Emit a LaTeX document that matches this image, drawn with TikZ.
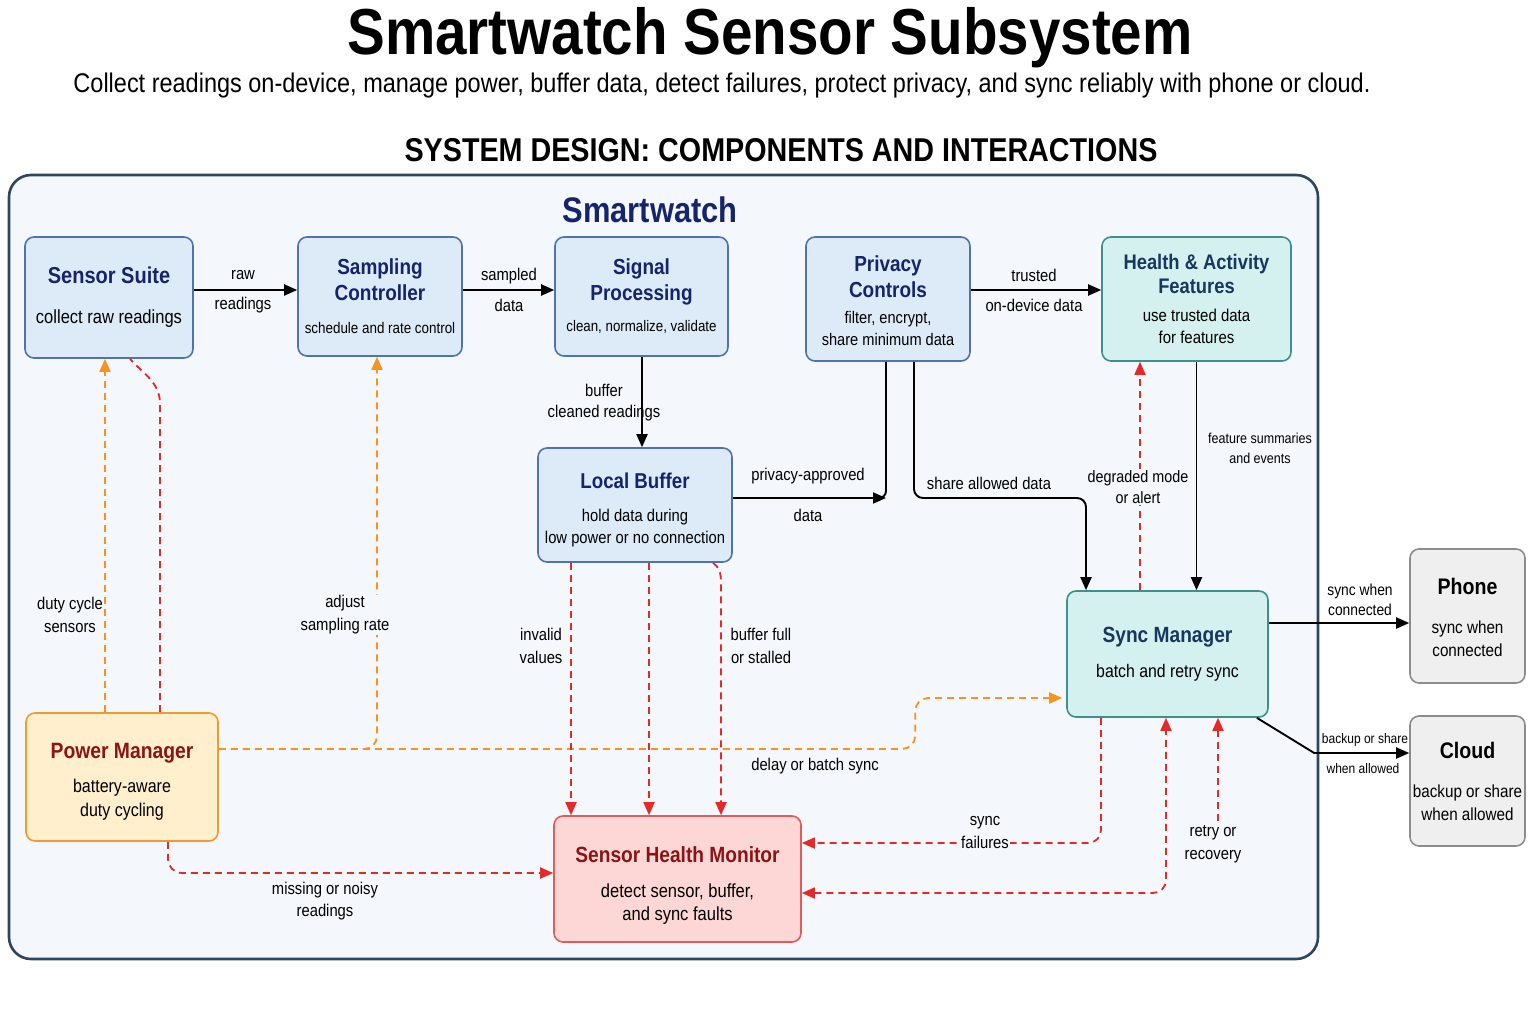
\documentclass[tikz,border=0pt]{standalone}
\usepackage{fontspec}
\setmainfont[FakeStretch=0.87]{Liberation Sans}
\usetikzlibrary{arrows.meta,calc}
\definecolor{navyT}{HTML}{15246B}
\definecolor{tealT}{HTML}{17375E}
\definecolor{redT}{HTML}{8B1414}
\definecolor{bFill}{HTML}{DDEAF8}
\definecolor{bBord}{HTML}{4F73B0}
\definecolor{tFill}{HTML}{D4F1EF}
\definecolor{tBord}{HTML}{3F8F8E}
\definecolor{gFill}{HTML}{EFEFEF}
\definecolor{gBord}{HTML}{8C8C8C}
\definecolor{oFill}{HTML}{FFEFCC}
\definecolor{oBord}{HTML}{F39A2E}
\definecolor{rFill}{HTML}{FDD7D5}
\definecolor{rBord}{HTML}{E05B5B}
\definecolor{cFill}{HTML}{F4F7FB}
\definecolor{cBord}{HTML}{2F455F}
\definecolor{oLine}{HTML}{F7931E}
\definecolor{rLine}{HTML}{E62828}
\newcommand\btit[3]{\fontsize{#1}{#1}\selectfont\bfseries\color{#2}#3}
\newcommand\bsub[2]{\fontsize{#1}{#1}\selectfont #2}
\newcommand\lift[1]{\rule{0pt}{#1}}
\tikzset{
  box/.style={rounded corners=9pt, line width=1.6pt, align=center, inner sep=2pt, font=\fontsize{16}{22}\selectfont},
  bluebox/.style={box, draw=bBord, fill=bFill},
  tealbox/.style={box, draw=tBord, fill=tFill},
  graybox/.style={box, draw=gBord, fill=gFill},
  orbox/.style={box, draw=oBord, fill=oFill},
  redbox/.style={box, draw=rBord, fill=rFill},
  tip/.style={-{Triangle[length=13pt,width=11pt]}},
  flow/.style={line width=1.9pt, draw=black, tip},
  plain/.style={line width=1.9pt, draw=black},
  odash/.style={line width=1.8pt, draw=oLine, dash pattern=on 7pt off 5pt, -{Triangle[length=13pt,width=11pt,fill=oLine]}},
  rdash/.style={line width=1.8pt, draw=rLine, dash pattern=on 7pt off 5pt, -{Triangle[length=13pt,width=11pt,fill=rLine]}},
  rdashline/.style={line width=1.8pt, draw=rLine, dash pattern=on 7pt off 5pt},
  lbl/.style={align=center, inner sep=1pt, font=\fontsize{17}{23}\selectfont},
  slbl/.style={align=center, inner sep=1pt, font=\fontsize{14.4}{20}\selectfont},
  bg/.style={fill=cFill}
}
\begin{document}
\begin{tikzpicture}[x=1pt,y=-1pt]
\useasboundingbox (0,0) rectangle (1536,1024);
\fill[white] (0,0) rectangle (1536,1024);

% headings
\node[font=\fontsize{65}{70}\selectfont\bfseries] (title) at (770,38) {Smartwatch Sensor Subsystem};
\node[font=\fontsize{27}{30}\selectfont] (subtitle) at (722,86) {Collect readings on-device, manage power, buffer data, detect failures, protect privacy, and sync reliably with phone or cloud.};
\node[font=\fontsize{33}{36}\selectfont\bfseries] (section) at (781,150) {SYSTEM DESIGN: COMPONENTS AND INTERACTIONS};

% container
\draw[line width=2.6pt, draw=cBord, fill=cFill, rounded corners=22pt] (9,175) rectangle (1318,959);
\node[font=\fontsize{35.5}{38}\selectfont\bfseries, text=navyT] (watch) at (650,210) {Smartwatch};

% boxes
\node[bluebox, minimum width=168pt, minimum height=121pt] (ss) at (109,297.5)
  {\btit{23}{navyT}{Sensor Suite}\\[18pt]\bsub{19}{collect raw readings}};
\node[bluebox, minimum width=164pt, minimum height=119pt] (sc) at (380,296.5)
  {\btit{21.8}{navyT}{Sampling}\\[4pt]\btit{21.8}{navyT}{Controller}\\[11pt]\bsub{15.4}{schedule and rate control}};
\node[bluebox, minimum width=173pt, minimum height=119pt] (sp) at (641.5,296.5)
  {\btit{21.8}{navyT}{Signal}\\[4pt]\btit{21.8}{navyT}{Processing}\\[9pt]\bsub{15.3}{clean, normalize, validate}};
\node[bluebox, minimum width=164pt, minimum height=124pt] (pc) at (888,299)
  {\lift{19pt}\btit{21.8}{navyT}{Privacy}\\[4pt]\btit{21.8}{navyT}{Controls}\\[4pt]\bsub{16.8}{filter, encrypt,}\\[0pt]\bsub{16.8}{share minimum data}};
\node[tealbox, minimum width=189pt, minimum height=124pt] (ha) at (1196.5,299)
  {\btit{21.1}{tealT}{Health \& Activity}\\[2pt]\btit{21.1}{tealT}{Features}\\[6pt]\bsub{17.2}{use trusted data}\\[0pt]\bsub{17.2}{for features}};
\node[bluebox, minimum width=194pt, minimum height=114pt] (lb) at (635,505)
  {\lift{26pt}\btit{21.5}{navyT}{Local Buffer}\\[11pt]\bsub{17}{hold data during}\\[0pt]\bsub{17}{low power or no connection}};
\node[tealbox, minimum width=201pt, minimum height=126pt] (sm) at (1167.5,654)
  {\btit{22}{tealT}{Sync Manager}\\[13pt]\bsub{18.2}{batch and retry sync}};
\node[graybox, minimum width=115pt, minimum height=134pt] (ph) at (1467.5,616)
  {\lift{20pt}\btit{22.5}{black}{Phone}\\[17pt]\bsub{17.5}{sync when}\\[1pt]\bsub{17.5}{connected}};
\node[graybox, minimum width=115pt, minimum height=130pt] (cl) at (1467.5,781)
  {\btit{22.5}{black}{Cloud}\\[17pt]\bsub{17.5}{backup or share}\\[1pt]\bsub{17.5}{when allowed}};
\node[orbox, minimum width=192pt, minimum height=128pt] (pm) at (122,777)
  {\lift{24pt}\btit{22.2}{redT}{Power Manager}\\[12pt]\bsub{18.4}{battery-aware}\\[2pt]\bsub{18.4}{duty cycling}};
\node[redbox, minimum width=247pt, minimum height=126pt] (hm) at (677.5,879)
  {\lift{28pt}\btit{22}{redT}{Sensor Health Monitor}\\[13pt]\bsub{19}{detect sensor, buffer,}\\[1pt]\bsub{19}{and sync faults}};

% helper coordinates
\coordinate (pcL) at ([xshift=-2pt]pc.south);
\coordinate (pcR) at ([xshift=26pt]pc.south);
\coordinate (lbE) at ([yshift=7pt]lb.east);
\coordinate (smL) at ([xshift=-81.5pt]sm.north);
\coordinate (smD) at ([xshift=-27.5pt]sm.north);
\coordinate (clW) at ([yshift=28pt]cl.west);
\coordinate (smC) at ([xshift=-12pt]sm.south east);
\coordinate (pmA) at ([xshift=-17pt]pm.north);
\coordinate (pmB) at ([xshift=38pt]pm.north);
\coordinate (ssB) at ([xshift=21pt]ss.south);
\coordinate (pmE) at ([yshift=28pt]pm.east);
\coordinate (scB) at ([xshift=-3pt]sc.south);
\coordinate (smW) at ([yshift=-44pt]sm.west);
\coordinate (lb1) at ([xshift=-64pt]lb.south);
\coordinate (lb2) at ([xshift=14pt]lb.south);
\coordinate (lb3) at ([xshift=78pt]lb.south);
\coordinate (smB1) at ([xshift=-66.5pt]sm.south);
\coordinate (smB2) at ([xshift=-1.5pt]sm.south);
\coordinate (smB3) at ([xshift=50.5pt]sm.south);
\coordinate (hmE1) at ([yshift=36pt]hm.east);
\coordinate (hmE2) at ([yshift=-14pt]hm.east);
\coordinate (pmC) at ([xshift=46pt]pm.south);
\coordinate (hmW) at ([yshift=6pt]hm.west);
\coordinate (rrStart) at ($(smB3)+(0,103)$);

% black flows
\draw[flow] ([yshift=7.5pt]ss.east) -- ([yshift=7.5pt]ss.east -| sc.west);
\draw[flow] ([yshift=6.5pt]sc.east) -- ([yshift=6.5pt]sc.east -| sp.west);
\draw[flow] ([yshift=9pt]pc.east) -- ([yshift=9pt]pc.east -| ha.west);
\draw[flow] ([xshift=0.5pt]sp.south) -- ([xshift=0.5pt]sp.south |- lb.north);
\draw[flow] (lbE) -- (lbE -| pcL);
\draw[plain, rounded corners=7pt] (pcL) |- ($(lbE -| pcL)+(-14,0)$);
\draw[flow, rounded corners=9pt] (pcR) |- (lbE -| smL) -- (smL);
\draw[flow] (ha.south) -- (ha.south |- sm.north);
\draw[flow] ([yshift=31pt]sm.east) -- ([yshift=31pt]sm.east -| ph.west);
\draw[flow] (smC) -- ($(clW)+(-95,0)$) -- (clW);

% orange dashed
\draw[odash] (pmA) -- (pmA |- ss.south);
\draw[odash, rounded corners=13pt] (pmE) -| (scB);
\draw[odash, rounded corners=13pt] (pmE) -- ($(pmE -| smW)+(-151,0)$) |- ([xshift=-4pt]smW);

% red dashed
\draw[rdashline] (pmB) -- ($(pmB |- ss.south)+(0,45)$) .. controls +(0,-22) and +(12,14) .. (ssB);
\draw[rdash] (smD) -- (smD |- ha.south);
\draw[rdash] (lb1) -- (lb1 |- hm.north);
\draw[rdash] (lb2) -- (lb2 |- hm.north);
\draw[rdash] (lb3) .. controls +(6,4) and +(0,-10) .. ($(lb3)+(8,20)$) -- ($(lb3 |- hm.north)+(8,0)$);
\draw[rdash, rounded corners=13pt] (smB1) |- (hmE1);
\draw[rdash, {Triangle[length=13pt,width=11pt,fill=rLine]}-{Triangle[length=13pt,width=11pt,fill=rLine]}, rounded corners=13pt] (hmE2) -| (smB2);
\draw[rdash] (rrStart) -- (smB3);
\draw[rdash, rounded corners=14pt] (pmC) |- (hmW);

% labels
\node[lbl] (l1a) at (243,275) {raw};
\node[lbl] (l1b) at (243,305) {readings};
\node[lbl] (l2a) at (509,276) {sampled};
\node[lbl] (l2b) at (509,305) {data};
\node[lbl] (l3a) at (1034,275) {trusted};
\node[lbl] (l3b) at (1034,305) {on-device data};
\node[lbl, font=\fontsize{17}{21}\selectfont] (l4) at (604,403) {buffer\\cleaned readings};
\node[lbl] (l5a) at (808,476) {privacy-approved};
\node[lbl] (l5b) at (808,515) {data};
\node[lbl] (l6) at (989,483) {share allowed data};
\node[lbl, bg, font=\fontsize{16.5}{21}\selectfont] (l7) at (1138,487) {degraded mode\\or alert};
\node[slbl] (l8) at (1260,448) {feature summaries\\and events};
\node[lbl, font=\fontsize{15.9}{20}\selectfont] (l9) at (1360,600) {sync when\\connected};
\node[lbl, font=\fontsize{13.8}{15}\selectfont] (l10a) at (1365,740) {backup or share};
\node[lbl, font=\fontsize{13.8}{15}\selectfont] (l10b) at (1363,769) {when allowed};
\node[lbl] (l11) at (70,615) {duty cycle\\sensors};
\node[lbl, bg] (l12) at (345,615) {adjust\\sampling rate};
\node[lbl] (l13) at (541,646) {invalid\\values};
\node[lbl] (l14) at (761,646) {buffer full\\or stalled};
\node[lbl] (l15) at (815,766) {delay or batch sync};
\node[lbl, bg] (l16) at (985,833) {sync\\failures};
\node[lbl] (l17) at (1213,844) {retry or\\recovery};
\node[lbl, font=\fontsize{17}{22}\selectfont] (l18) at (325,901) {missing or noisy\\readings};
\end{tikzpicture}
\end{document}
